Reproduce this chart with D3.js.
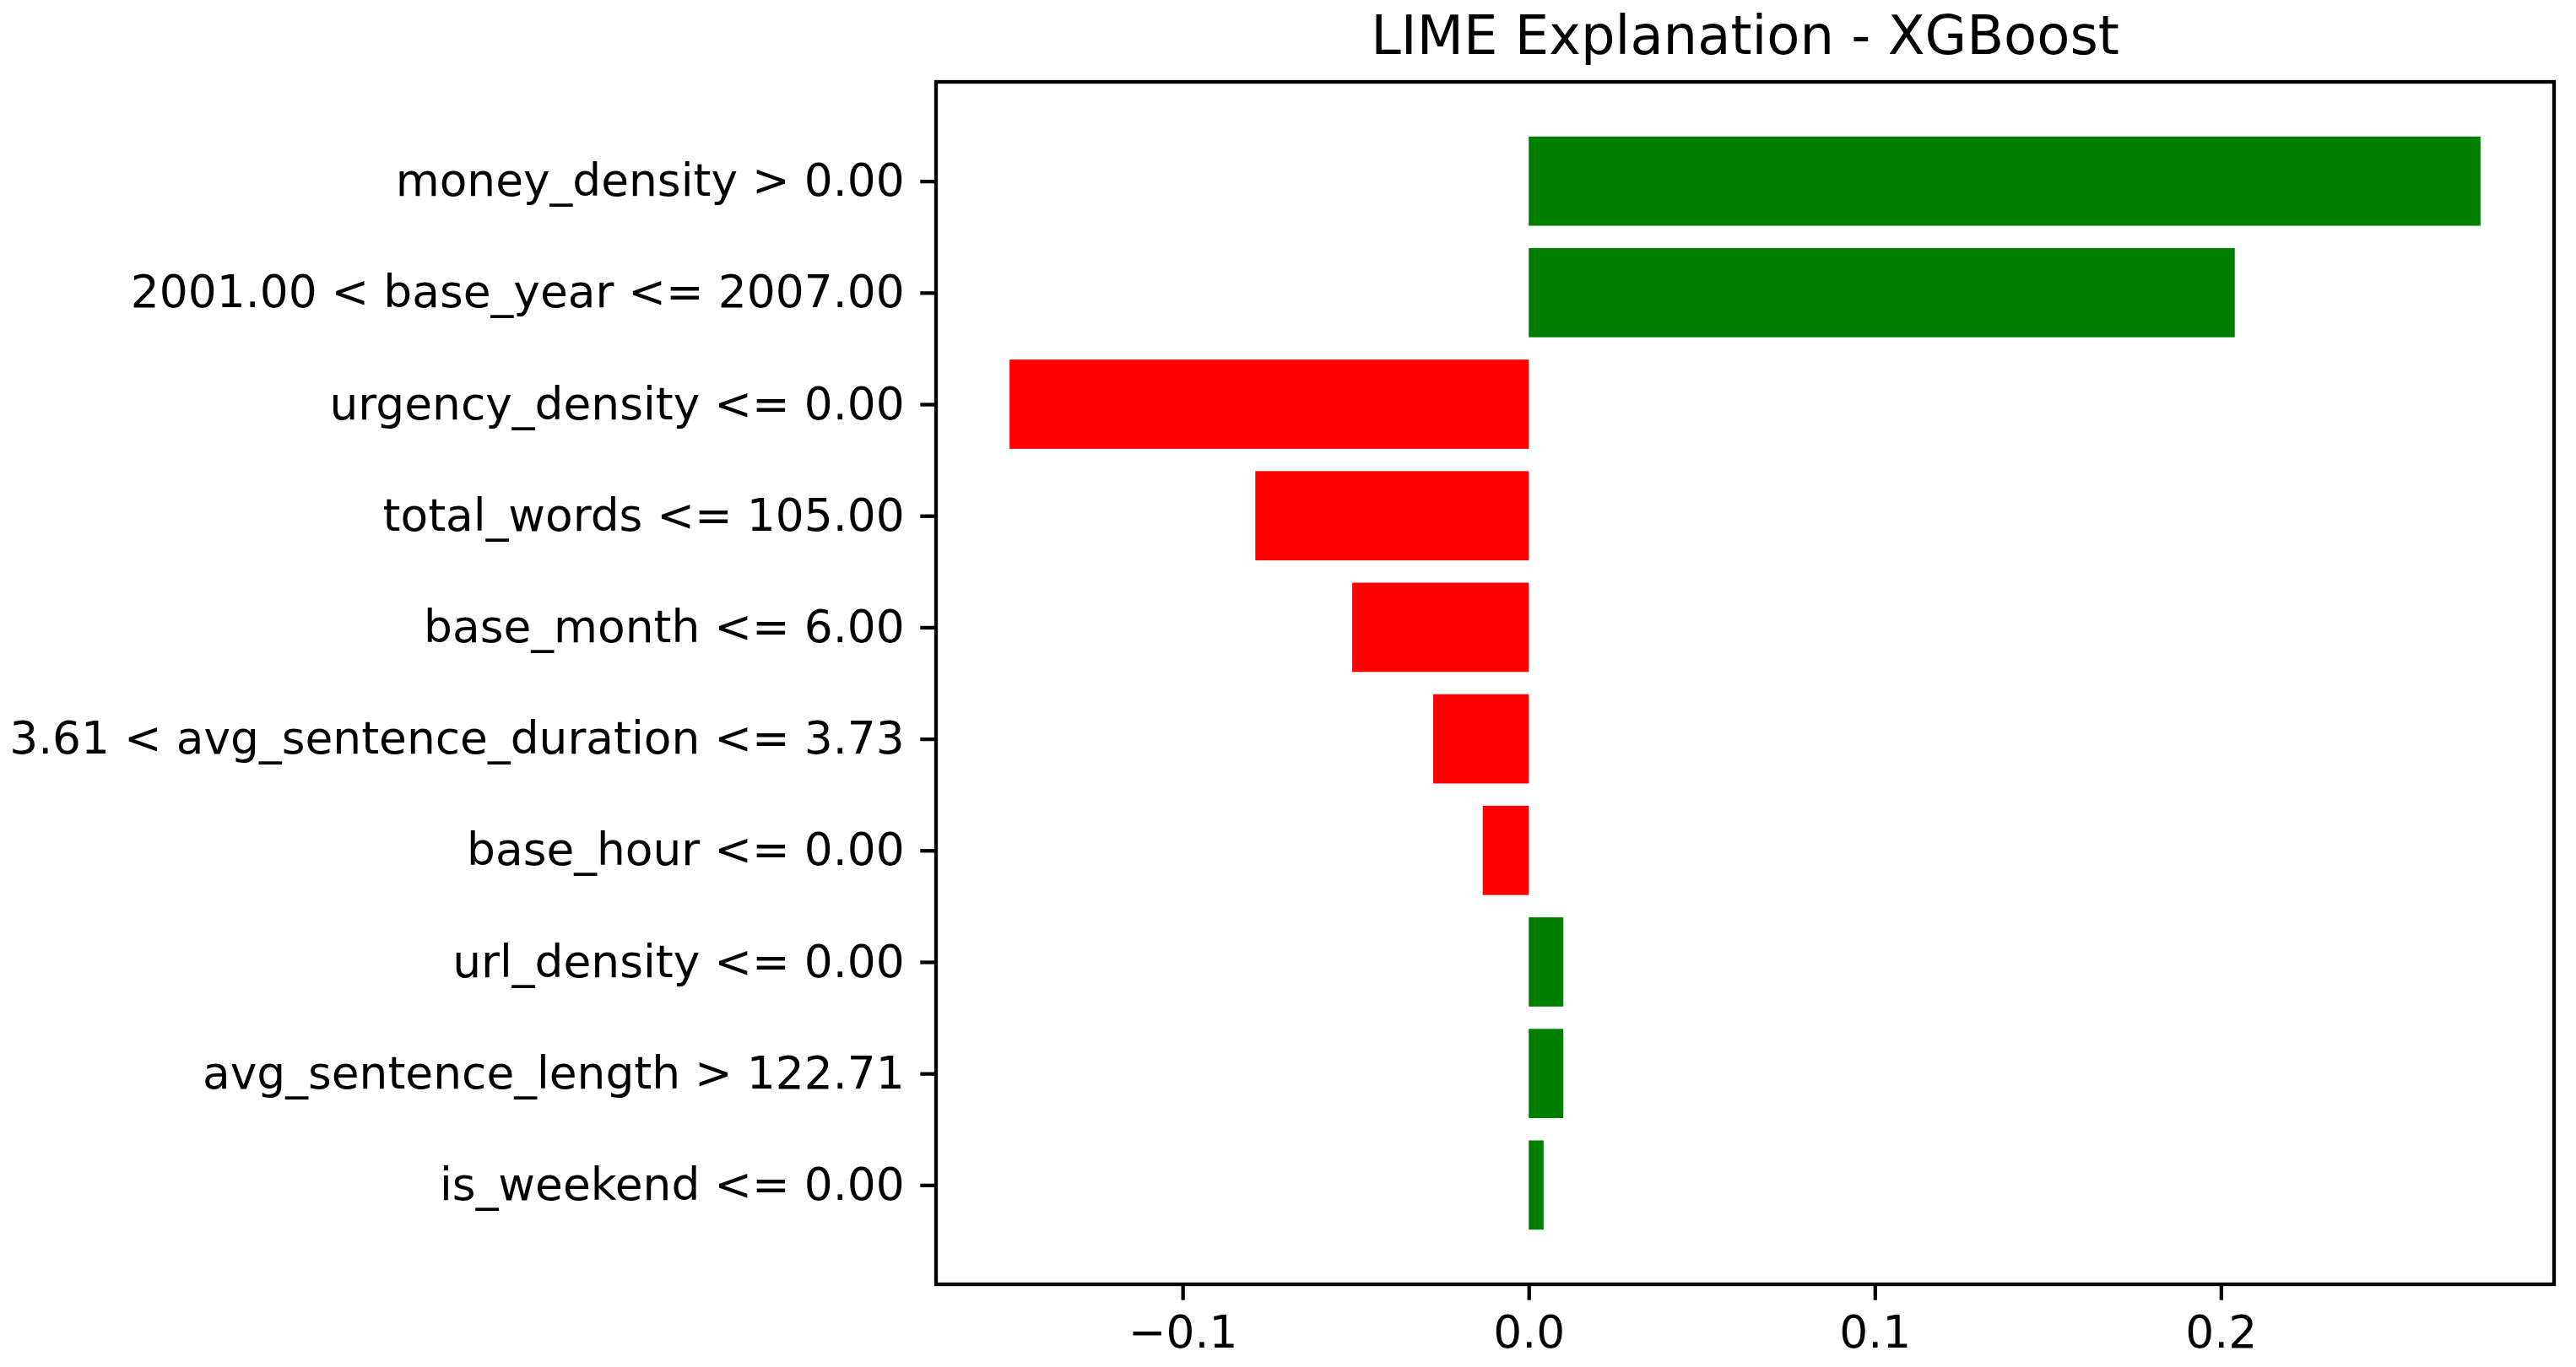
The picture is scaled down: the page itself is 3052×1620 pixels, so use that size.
<!DOCTYPE html>
<html>
<head>
<meta charset="utf-8">
<script src="https://cdn.jsdelivr.net/npm/d3@7"></script>
<style>
  body { margin: 0; background: #fff; }
  text { font-family: "DejaVu Sans", sans-serif; fill: #000; }
</style>
</head>
<body>
<svg id="chart" width="3052" height="1620"></svg>
<script>
// feature labels, top to bottom
const features = [
  "money_density > 0.00",
  "2001.00 < base_year <= 2007.00",
  "urgency_density <= 0.00",
  "total_words <= 105.00",
  "base_month <= 6.00",
  "3.61 < avg_sentence_duration <= 3.73",
  "base_hour <= 0.00",
  "url_density <= 0.00",
  "avg_sentence_length > 122.71",
  "is_weekend <= 0.00"
];
const weights = [0.275, 0.204, -0.150, -0.079, -0.051, -0.0276, -0.0133, 0.010, 0.010, 0.0043];
const xTicks = [-0.1, 0.0, 0.1, 0.2];
const title = "LIME Explanation - XGBoost";

const margin = { left: 1109, top: 97, right: 26, bottom: 98 };
const width = 3052 - margin.left - margin.right;
const height = 1620 - margin.top - margin.bottom;
const tickFont = 53.4;
const lw = 4.3;

const svg = d3.select("#chart");
const g = svg.append("g").attr("transform", `translate(${margin.left},${margin.top})`);

// matplotlib-like 5% margins
const lo = d3.min(weights), hi = d3.max(weights);
const pad = (hi - lo) * 0.05;
const xScale = d3.scaleLinear().domain([lo - pad, hi + pad]).range([0, width]);
const n = features.length;
// index 0 at top; bars centred on integers, height 0.8
const yScale = d3.scaleLinear().domain([-0.89, n - 1 + 0.89]).range([0, height]);

g.selectAll("rect.bar")
  .data(weights)
  .join("rect")
  .attr("class", "bar")
  .attr("x", d => xScale(Math.min(0, d)))
  .attr("width", d => Math.abs(xScale(d) - xScale(0)))
  .attr("y", (d, i) => yScale(i - 0.4))
  .attr("height", yScale(0.8) - yScale(0))
  .attr("fill", d => d > 0 ? "#008000" : "#ff0000");

// x axis
const xAxis = d3.axisBottom(xScale)
  .tickValues(xTicks)
  .tickFormat(d => d3.format(".1f")(d).replace("-", "\u2212"))
  .tickSize(18.7)
  .tickPadding(18.7);
const xa = g.append("g").attr("transform", `translate(0,${height})`).call(xAxis);
xa.select(".domain").remove();
xa.selectAll("line").attr("stroke", "#000").attr("stroke-width", lw);
xa.selectAll("text").attr("font-size", tickFont).attr("font-family", "DejaVu Sans");

// y axis
const yAxis = d3.axisLeft(yScale)
  .tickValues(d3.range(n))
  .tickFormat(i => features[i])
  .tickSize(18.7)
  .tickPadding(18.7);
const ya = g.append("g").call(yAxis);
ya.select(".domain").remove();
ya.selectAll("line").attr("stroke", "#000").attr("stroke-width", lw);
ya.selectAll("text").attr("font-size", tickFont).attr("font-family", "DejaVu Sans");

// frame
g.append("rect")
  .attr("width", width).attr("height", height)
  .attr("fill", "none").attr("stroke", "#000").attr("stroke-width", lw);

svg.append("text")
  .attr("x", margin.left + width / 2)
  .attr("y", 64)
  .attr("text-anchor", "middle")
  .attr("font-size", 64)
  .text(title);
</script>
</body>
</html>
